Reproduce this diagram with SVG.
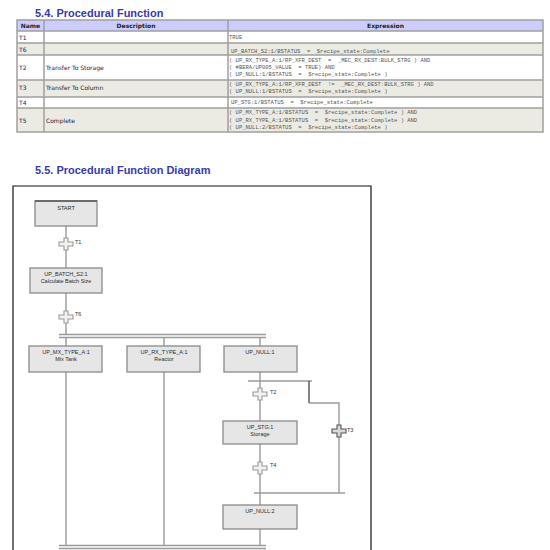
<svg xmlns="http://www.w3.org/2000/svg" width="550" height="550" viewBox="0 0 550 550">
<defs>
<style>
.title{font-family:"Liberation Sans",Arial,sans-serif;font-weight:bold;font-size:11px;fill:#3a3aa8}
.th{font-family:"DejaVu Sans",sans-serif;font-weight:bold;font-size:6px;fill:#222}
.td{font-family:"DejaVu Sans",sans-serif;font-size:6px;fill:#1c1c40}
.ex{font-family:"Liberation Mono","Courier New",monospace;font-size:5.5px;fill:#555}
.grid{stroke:#a0a0a0;stroke-width:1.5;fill:none}
.box{fill:#e6e6e6;stroke:#8a8a8a;stroke-width:1.3}
.bt{font-family:"Liberation Sans",Arial,sans-serif;font-size:5.5px;fill:#2a2a2a;text-anchor:middle}
.ln{stroke:#9a9a9a;stroke-width:1.4;fill:none}
.lbl{font-family:"Liberation Sans",Arial,sans-serif;font-size:5.5px;fill:#333}
.cross{fill:#f2f2f2;stroke:#9a9a9a;stroke-width:1.1}
</style>
<path id="plus" d="M-2,-6 H2 V-2 H7 V2 H2 V6 H-2 V2 H-7 V-2 H-2 Z"/>
</defs>
<rect width="550" height="550" fill="#ffffff"/>

<text class="title" x="35" y="17">5.4.  Procedural Function</text>

<g id="table">
<rect x="17" y="20" width="526" height="11" fill="#ccccff"/>
<rect x="17" y="31" width="526" height="12" fill="#ffffff"/>
<rect x="17" y="43" width="526" height="12" fill="#ebebe3"/>
<rect x="17" y="55" width="526" height="25" fill="#ffffff"/>
<rect x="17" y="80" width="526" height="17" fill="#ebebe3"/>
<rect x="17" y="97" width="526" height="11" fill="#ffffff"/>
<rect x="17" y="108" width="526" height="24" fill="#ebebe3"/>
<path class="grid" d="M17,31 H543 M17,43 H543 M17,55 H543 M17,80 H543 M17,97 H543 M17,108 H543"/>
<path class="grid" stroke-width="2" d="M44,20 V132 M228,20 V132"/>
<rect class="grid" stroke-width="2" x="17" y="20" width="526" height="112"/>
<text class="th" x="30.5" y="28" text-anchor="middle">Name</text>
<text class="th" x="136" y="28" text-anchor="middle">Description</text>
<text class="th" x="385.5" y="28" text-anchor="middle">Expression</text>

<text class="td" x="19" y="40">T1</text>
<text class="td" x="19" y="52">T6</text>
<text class="td" x="19" y="70">T2</text>
<text class="td" x="46" y="70">Transfer To Storage</text>
<text class="td" x="19" y="90">T3</text>
<text class="td" x="46" y="90">Transfer To Column</text>
<text class="td" x="19" y="105">T4</text>
<text class="td" x="19" y="123">T5</text>
<text class="td" x="46" y="123">Complete</text>

<text class="ex" x="229" y="39">TRUE</text>
<text class="ex" x="231" y="53" xml:space="preserve">UP_BATCH_S2:1/BSTATUS  =  $recipe_state:Complete</text>
<text class="ex" x="229" y="62" xml:space="preserve">( UP_RX_TYPE_A:1/RP_XFR_DEST  =  _MEC_RX_DEST:BULK_STRG ) AND</text>
<text class="ex" x="229" y="69" xml:space="preserve">( #BERA/UP005_VALUE  = TRUE) AND</text>
<text class="ex" x="229" y="76" xml:space="preserve">( UP_NULL:1/BSTATUS  =  $recipe_state:Complete )</text>
<text class="ex" x="229" y="86" xml:space="preserve">( UP_RX_TYPE_A:1/RP_XFR_DEST  !=  _MEC_RX_DEST:BULK_STRG ) AND</text>
<text class="ex" x="229" y="93" xml:space="preserve">( UP_NULL:1/BSTATUS  =  $recipe_state:Complete )</text>
<text class="ex" x="231" y="104" xml:space="preserve">UP_STG:1/BSTATUS  =  $recipe_state:Complete</text>
<text class="ex" x="229" y="114" xml:space="preserve">( UP_MX_TYPE_A:1/BSTATUS  =  $recipe_state:Complete ) AND</text>
<text class="ex" x="229" y="122" xml:space="preserve">( UP_RX_TYPE_A:1/BSTATUS  =  $recipe_state:Complete ) AND</text>
<text class="ex" x="229" y="129" xml:space="preserve">( UP_NULL:2/BSTATUS  =  $recipe_state:Complete )</text>
</g>

<text class="title" x="35" y="174">5.5.  Procedural Function Diagram</text>

<path d="M13,560 V186 H371 V560" fill="none" stroke="#111" stroke-width="1.2"/>

<g id="connectors">
<path class="ln" d="M66,226 V268 M66,293 V335"/>
<path class="ln" stroke-width="1.2" d="M59,334.5 H266 M59,337.5 H266"/>
<path class="ln" d="M66,338 V346 M164,338 V346 M260,338 V346"/>
<path class="ln" d="M66,372 V546 M164,372 V546"/>
<path class="ln" d="M260,372 V421 M248,381 H312"/>
<path d="M309,381 V403" stroke="#333" stroke-width="1.2" fill="none"/>
<path class="ln" d="M309,403 H339 V493"/>
<path class="ln" d="M260,444 V505 M254,493 H345 M260,529 V546"/>
<path class="ln" stroke-width="1.2" d="M59,545.5 H266 M59,548.5 H266"/>
</g>

<g id="T1"><use href="#plus" class="cross" x="66" y="244"/><text class="lbl" x="75" y="244">T1</text></g>
<g id="T6"><use href="#plus" class="cross" x="66" y="317"/><text class="lbl" x="75" y="316">T6</text></g>
<g id="T2"><use href="#plus" class="cross" x="260" y="394"/><text class="lbl" x="270" y="394">T2</text></g>
<g id="T4"><use href="#plus" class="cross" x="260" y="468"/><text class="lbl" x="270" y="467">T4</text></g>
<g id="T3"><use href="#plus" class="cross" style="stroke:#555;fill:#d8d8d8" x="339" y="431"/><text class="lbl" x="347" y="432">T3</text></g>

<g id="START">
<rect class="box" x="35" y="201" width="62" height="25"/>
<path d="M35,201 H97" stroke="#555" stroke-width="1.5"/>
<text class="bt" x="66" y="210">START</text>
</g>
<g id="UP_BATCH_S2_1">
<rect class="box" x="30" y="268" width="72" height="25"/>
<text class="bt" x="66" y="276">UP_BATCH_S2:1</text>
<text class="bt" x="66" y="283">Calculate Batch Size</text>
</g>
<g id="UP_MX_TYPE_A_1">
<rect class="box" x="29" y="346" width="73" height="26"/>
<text class="bt" x="66" y="354">UP_MX_TYPE_A:1</text>
<text class="bt" x="66" y="361">Mix Tank</text>
</g>
<g id="UP_RX_TYPE_A_1">
<rect class="box" x="127" y="346" width="73" height="26"/>
<text class="bt" x="164" y="354">UP_RX_TYPE_A:1</text>
<text class="bt" x="164" y="361">Reactor</text>
</g>
<g id="UP_NULL_1">
<rect class="box" x="224" y="346" width="73" height="26"/>
<text class="bt" x="260" y="354">UP_NULL:1</text>
</g>
<g id="UP_STG_1">
<rect class="box" x="223" y="421" width="74" height="23"/>
<text class="bt" x="260" y="429">UP_STG:1</text>
<text class="bt" x="260" y="436">Storage</text>
</g>
<g id="UP_NULL_2">
<rect class="box" x="223" y="505" width="74" height="24"/>
<text class="bt" x="260" y="513">UP_NULL:2</text>
</g>
</svg>
